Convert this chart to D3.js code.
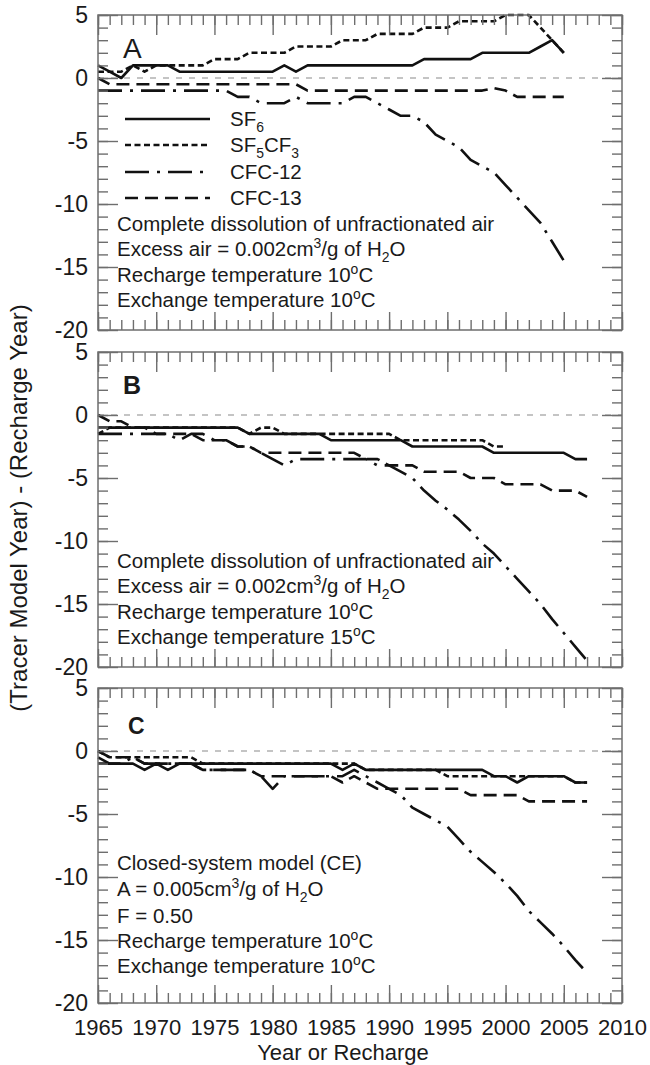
<!DOCTYPE html>
<html>
<head>
<meta charset="utf-8">
<script src="https://cdn.jsdelivr.net/npm/d3@7"></script>
<style>
  body { margin: 0; background: #fff; }
  svg text { font-family: "Liberation Sans", Arial, sans-serif; fill: #1a1a1a; }
</style>
</head>
<body>
<svg id="chart" width="650" height="1065"></svg>
<script>
// recharge years (x values of every series)
var years = [1965, 1966, 1967, 1968, 1969, 1970, 1971, 1972, 1973, 1974,
             1975, 1976, 1977, 1978, 1979, 1980, 1981, 1982, 1983, 1984,
             1985, 1986, 1987, 1988, 1989, 1990, 1991, 1992, 1993, 1994,
             1995, 1996, 1997, 1998, 1999, 2000, 2001, 2002, 2003, 2004,
             2005, 2006, 2007];

// panel A : (tracer model year) - (recharge year), 1965-2005
var sf6A    = [1, 0.5, 0, 1, 1, 1, 1, 0.5, 0.5, 0.5, 0.5, 0.5, 0.5, 0.5, 0.5, 0.5, 1, 0.5, 1, 1,
               1, 1, 1, 1, 1, 1, 1, 1, 1.5, 1.5, 1.5, 1.5, 1.5, 2, 2, 2, 2, 2, 2.5, 3, 2];
var sf5cf3A = [0.5, 0.5, 0.5, 1, 0.5, 1, 1, 1, 1, 1, 1.5, 1.5, 1.5, 2, 2, 2, 2, 2.5, 2.5, 2.5,
               2.5, 3, 3, 3, 3.5, 3.5, 3.5, 3.5, 4, 4, 4, 4.5, 4.5, 4.5, 4.5, 5, 5, 5, 4, 3, 2];
var cfc12A  = [-1, -1, -1, -1, -1, -1, -1, -1, -1, -1, -1, -1, -1.5, -1.5, -2, -2, -2, -1.5, -2, -2,
               -2, -2, -1.5, -1.5, -2, -2.5, -3, -3, -3.5, -4.5, -5, -5.5, -6.5, -7, -7.5, -8.5, -9.5, -10.5, -11.5, -13, -14.5];
var cfc13A  = [0, -0.5, -0.5, -0.5, -0.5, -0.5, -0.5, -0.5, -0.5, -0.5, -0.5, -0.5, -0.5, -0.5, -0.5, -0.5, -0.5, -0.5, -1, -1,
               -1, -1, -1, -1, -1, -1, -1, -1, -1, -1, -1, -1, -1, -1, -0.8, -1, -1.5, -1.5, -1.5, -1.5, -1.5];

// panel B : exchange temperature 15 C
var sf6B    = [-1, -1, -1, -1, -1, -1, -1, -1, -1, -1, -1, -1, -1, -1.5, -1.5, -1.5, -1.5, -1.5, -1.5, -1.5,
               -2, -2, -2, -2, -2, -2, -2, -2.5, -2.5, -2.5, -2.5, -2.5, -2.5, -2.5, -3, -3, -3, -3, -3, -3,
               -3, -3.5, -3.5];
var sf5cf3B = [-1.5, -1, -1, -1, -1, -1, -1, -1, -1, -1, -1, -1, -1, -1.5, -1, -1, -1.5, -1.5, -1.5, -1.5,
               -1.5, -1.5, -1.5, -1.5, -1.5, -1.5, -2, -2, -2, -2, -2, -2, -2, -2, -2.5, -2.5];
var cfc12B  = [-1.5, -1.5, -1.5, -1.5, -1.5, -1.5, -1.5, -2, -1.5, -1.5, -2, -2, -2.5, -2.5, -3, -3.5, -4, -3.5, -3.5, -3.5,
               -3.5, -3.5, -3.5, -3.5, -4, -4, -4.5, -5, -6, -6.8, -7.5, -8.3, -9.2, -10.2, -11, -12, -13, -14, -15, -16.2,
               -17.3, -18.4, -19.5];
var cfc13B  = [0, -0.5, -0.5, -1, -1, -1.5, -1.5, -1.5, -1.5, -2, -2, -2, -2.5, -2.5, -3, -3, -3, -3, -3, -3,
               -3, -3, -3, -3.5, -3.5, -4, -4, -4, -4.5, -4.5, -4.5, -4.5, -5, -5, -5, -5.5, -5.5, -5.5, -5.5, -6,
               -6, -6, -6.5];

// panel C : closed-system model (CE)
var sf6C    = [-1, -1, -1, -1, -1.5, -1, -1.5, -1, -1, -1, -1, -1, -1, -1, -1, -1, -1, -1, -1, -1,
               -1, -1.5, -1, -1.5, -1.5, -1.5, -1.5, -1.5, -1.5, -1.5, -1.5, -1.5, -1.5, -1.5, -2, -2, -2.5, -2, -2, -2,
               -2, -2.5, -2.5];
var sf5cf3C = [0, -0.5, -0.5, -0.5, -0.5, -0.5, -0.5, -0.5, -0.5, -1, -1, -1, -1, -1, -1, -1, -1, -1, -1, -1,
               -1, -1, -1, -1.5, -1.5, -1.5, -1.5, -1.5, -1.5, -1.5, -2, -2, -2, -2, -2, -2, -2, -2, -2, -2,
               -2, -2.5, -2.5];
var cfc12C  = [-0.5, -1, -1, -0.5, -1, -1, -1, -1, -1, -1.5, -1.5, -1.5, -1.5, -1.5, -2, -3, -2, -2, -2, -2,
               -2, -2, -1.5, -2, -2.5, -3, -3.5, -4.5, -5, -5.5, -6, -7, -8, -8.8, -9.6, -10.5, -11.5, -12.7, -13.6, -14.5,
               -15.5, -16.6, -17.6];
var cfc13C  = [0, -0.5, -0.5, -0.5, -1, -1, -1, -1, -1, -1.5, -1.5, -1.5, -1.5, -1.5, -2, -2, -2, -2, -2, -2,
               -2, -2.5, -2, -2.5, -3, -3, -3, -3, -3, -3, -3, -3, -3.5, -3.5, -3.5, -3.5, -3.5, -4, -4, -4,
               -4, -4, -4];

// axis ticks
var majorYears = [1965, 1970, 1975, 1980, 1985, 1990, 1995, 2000, 2005, 2010];
var majorVals = [-20, -15, -10, -5, 0, 5];
var minorYears = d3.range(1965, 2011);
var minorVals = d3.range(-20, 6);

var seriesNames = [[["SF"], ["6", "sub"]],
                   [["SF"], ["5", "sub"], ["CF"], ["3", "sub"]],
                   [["CFC-12"]],
                   [["CFC-13"]]];
var dashes = [null, "6,3.5", "24,8,3,8", "13,7"];

var notesAB = function(exch) {
    return [[["Complete dissolution of unfractionated air"]],
            [["Excess air = 0.002cm"], ["3", "sup"], ["/g of H"], ["2", "sub"], ["O"]],
            [["Recharge temperature 10"], ["o", "sup"], ["C"]],
            [["Exchange temperature " + exch], ["o", "sup"], ["C"]]];
};
var notesC = [[["Closed-system model (CE)"]],
              [["A = 0.005cm"], ["3", "sup"], ["/g of H"], ["2", "sub"], ["O"]],
              [["F = 0.50"]],
              [["Recharge temperature 10"], ["o", "sup"], ["C"]],
              [["Exchange temperature 10"], ["o", "sup"], ["C"]]];

var panels = [
    {letter: "A", bold: false, size: 28, lx: 25, ly: 43, series: [sf6A, sf5cf3A, cfc12A, cfc13A],
     notes: notesAB("10"), noteY: [216, 241, 267, 292], legend: true},
    {letter: "B", bold: true, size: 25, lx: 25, ly: 42, series: [sf6B, sf5cf3B, cfc12B, cfc13B],
     notes: notesAB("15"), noteY: [216, 241, 267, 292], legend: false},
    {letter: "C", bold: true, size: 23, lx: 30, ly: 46, series: [sf6C, sf5cf3C, cfc12C, cfc13C],
     notes: notesC, noteY: [182, 208, 235, 260, 285], legend: false}
];

var svg = d3.select("#chart");
var plotLeft = 98, plotW = 524, plotH = 315;
var panelTops = [15, 352, 688];
var axisColor = "#6e6e6e";

var x = d3.scaleLinear().domain([1965, 2010]).range([0, plotW]);
var y = d3.scaleLinear().domain([-20, 5]).range([plotH, 0]);

//writes text made of normal, superscript and subscript pieces
function richText(sel, parts, size) {
    var shift = 0;
    parts.forEach(function(p) {
        var target = p[1] == "sup" ? -0.38 * size : (p[1] == "sub" ? 0.3 * size : 0);
        sel.append("tspan")
            .attr("dy", target - shift)
            .attr("font-size", p[1] ? size * 0.68 : size)
            .text(p[0]);
        shift = target;
    });
}

function styleAxis(g) {
    g.select(".domain").remove();
    g.selectAll(".tick line").attr("stroke", axisColor).attr("stroke-width", 1.4);
    g.selectAll("text").attr("font-size", 23).attr("fill", "#1a1a1a");
    g.attr("font-family", null);
}

panels.forEach(function(p, i) {
    var g = svg.append("g")
        .attr("transform", "translate(" + plotLeft + "," + panelTops[i] + ")");

    //dashed zero line
    g.append("line")
        .attr("x1", 0).attr("x2", plotW)
        .attr("y1", y(0)).attr("y2", y(0))
        .attr("stroke", "#8a8a8a")
        .attr("stroke-width", 1.2)
        .attr("stroke-dasharray", "6,7");

    //tracer curves
    var line = d3.line()
        .x(function(d, j) { return x(years[j]); })
        .y(function(d) { return y(d); });
    p.series.forEach(function(vals, k) {
        g.append("path")
            .datum(vals)
            .attr("d", line)
            .attr("fill", "none")
            .attr("stroke", "#111")
            .attr("stroke-width", 2.6)
            .attr("stroke-linejoin", "round")
            .attr("stroke-dasharray", dashes[k]);
    });

    //ticks on all four sides, pointing inward
    g.append("g").attr("transform", "translate(0," + plotH + ")")
        .call(d3.axisBottom(x).tickValues(minorYears).tickSize(-10).tickFormat("")).call(styleAxis);
    var bottom = g.append("g").attr("transform", "translate(0," + plotH + ")")
        .call(d3.axisBottom(x).tickValues(majorYears).tickSize(-18).tickPadding(16)
            .tickFormat(i == 2 ? function(d) { return String(d); } : "")).call(styleAxis);
    bottom.selectAll("text").attr("font-size", 22);
    g.append("g")
        .call(d3.axisTop(x).tickValues(minorYears).tickSize(-10).tickFormat("")).call(styleAxis);
    g.append("g")
        .call(d3.axisTop(x).tickValues(majorYears).tickSize(-20).tickFormat("")).call(styleAxis);
    g.append("g")
        .call(d3.axisLeft(y).tickValues(minorVals).tickSize(-10).tickFormat("")).call(styleAxis);
    g.append("g")
        .call(d3.axisLeft(y).tickValues(majorVals).tickSize(-20).tickPadding(10)
            .tickFormat(function(d) { return String(d); })).call(styleAxis);
    g.append("g").attr("transform", "translate(" + plotW + ",0)")
        .call(d3.axisRight(y).tickValues(minorVals).tickSize(-10).tickFormat("")).call(styleAxis);
    g.append("g").attr("transform", "translate(" + plotW + ",0)")
        .call(d3.axisRight(y).tickValues(majorVals).tickSize(-20).tickFormat("")).call(styleAxis);

    //frame
    g.append("rect")
        .attr("width", plotW).attr("height", plotH)
        .attr("fill", "none")
        .attr("stroke", axisColor)
        .attr("stroke-width", 1.5);

    //panel letter
    g.append("text")
        .attr("x", p.lx).attr("y", p.ly)
        .attr("font-size", p.size)
        .attr("font-weight", p.bold ? "bold" : "normal")
        .text(p.letter);

    //model description
    p.notes.forEach(function(parts, n) {
        var t = g.append("text").attr("x", 19).attr("y", p.noteY[n]);
        richText(t, parts, 20.5);
    });

    //legend (panel A only)
    if (p.legend) {
        var rows = [104, 130, 157, 183];
        seriesNames.forEach(function(name, k) {
            g.append("line")
                .attr("x1", 27).attr("x2", 112)
                .attr("y1", rows[k]).attr("y2", rows[k])
                .attr("stroke", "#111")
                .attr("stroke-width", 2.6)
                .attr("stroke-dasharray", dashes[k]);
            var t = g.append("text").attr("x", 132).attr("y", rows[k] + 7);
            richText(t, name, 20.5);
        });
    }
});

//axis titles
svg.append("text")
    .attr("transform", "translate(27,508) rotate(-90)")
    .attr("text-anchor", "middle")
    .attr("font-size", 24)
    .text("(Tracer Model Year) - (Recharge Year)");

svg.append("text")
    .attr("x", 343).attr("y", 1060)
    .attr("text-anchor", "middle")
    .attr("font-size", 22)
    .text("Year or Recharge");
</script>
</body>
</html>
